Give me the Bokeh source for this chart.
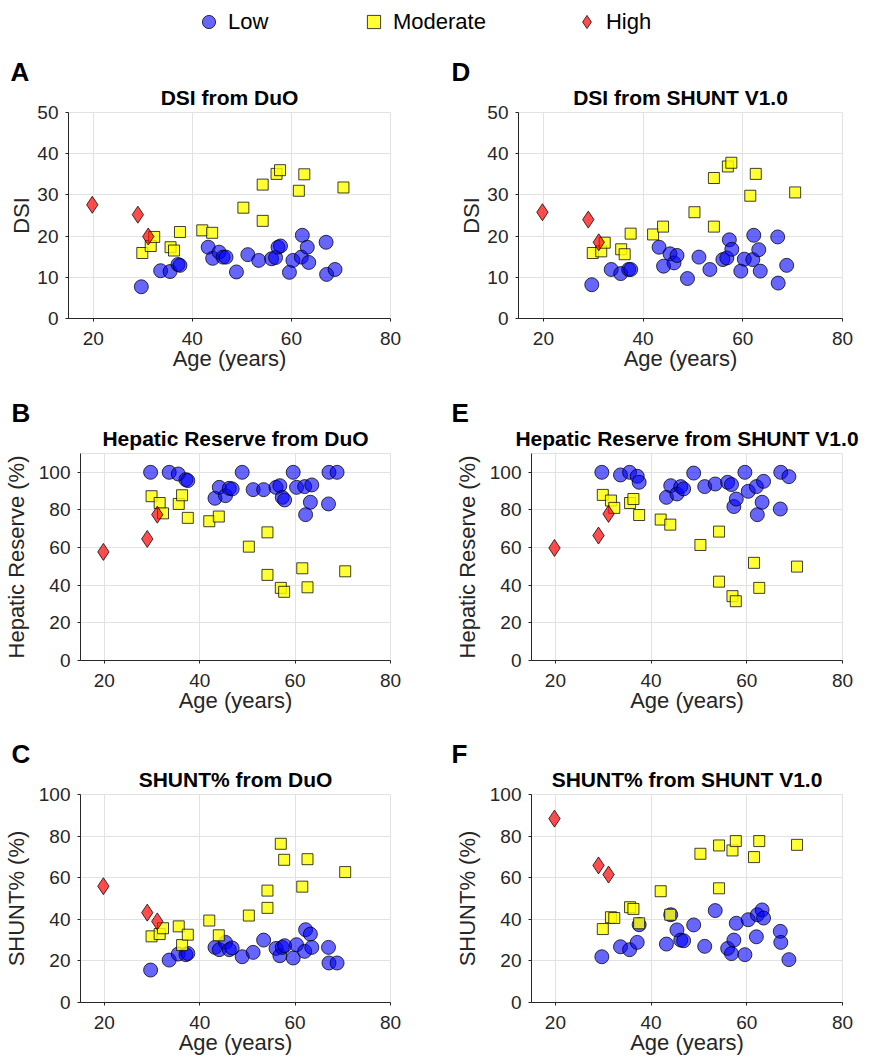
from bokeh.plotting import figure
from bokeh.models import Legend, LegendItem, Title, FixedTicker, Range1d
from bokeh.layouts import column, row
from bokeh.embed import file_html
from bokeh.resources import INLINE

# ---------------- data ----------------
low_age = [29.7, 33.6, 35.5, 37.1, 37.5, 43.2, 44.1, 45.4, 46.2, 46.8, 48.9, 51.2, 53.4,
           56.0, 56.8, 57.3, 57.8, 59.6, 60.3, 62.0, 62.2, 63.2, 63.5, 67.0, 67.1, 68.8]
mod_age = [29.9, 31.6, 32.3, 35.6, 36.3, 37.5, 42.0, 44.0, 50.3, 54.2, 54.2, 57.0, 57.7,
           61.5, 62.6, 70.5]
high_age = [19.8, 29.0, 31.1]

dsi_duo_low = [7.7, 11.6, 11.4, 13.1, 12.9, 17.3, 14.6, 16.1, 14.9, 14.9, 11.3, 15.5, 14.1,
               14.5, 14.8, 17.3, 17.6, 11.2, 14.1, 14.9, 20.2, 17.3, 13.6, 18.5, 10.7, 11.9]
dsi_duo_mod = [15.9, 17.6, 19.8, 17.3, 16.5, 21.0, 21.4, 20.8, 26.9, 23.7, 32.5, 35.1, 36.0,
               31.0, 35.0, 31.8]
dsi_duo_high = [27.6, 25.2, 19.9]

hr_duo_low = [100, 100, 99.1, 96.1, 95.6, 86.2, 92.0, 87.6, 91.5, 91.2, 100, 90.8, 90.8,
              92.0, 92.9, 86.7, 85.3, 100, 92.0, 92.4, 77.5, 84.1, 93.3, 83.2, 100, 100]
hr_duo_mod = [87.3, 83.7, 78.2, 83.2, 87.8, 75.8, 74.0, 76.5, 60.5, 68.1, 45.5, 38.6, 36.5,
              49.0, 38.9, 47.4]
hr_duo_high = [57.7, 64.6, 77.5]

sh_duo_low = [15.6, 20.4, 23.3, 23.0, 23.6, 26.5, 25.4, 28.9, 25.4, 26.2, 22.0, 24.1, 30.0,
              26.0, 22.5, 26.5, 27.3, 21.4, 27.8, 24.6, 35.0, 32.9, 26.5, 26.5, 19.0, 19.0]
sh_duo_mod = [31.8, 32.9, 35.7, 36.6, 27.6, 32.6, 39.4, 32.3, 41.8, 45.5, 53.8, 76.3, 68.6,
              55.7, 68.9, 62.7]
sh_duo_high = [55.9, 43.2, 39.0]

dsi_sv_low = [8.2, 11.9, 10.9, 11.9, 11.9, 17.3, 12.7, 15.7, 13.5, 15.3, 9.7, 14.9, 11.9,
              14.3, 14.7, 19.1, 16.8, 11.5, 14.4, 14.3, 20.2, 16.7, 11.5, 19.8, 8.6, 12.9]
dsi_sv_mod = [15.9, 16.3, 18.4, 16.8, 15.6, 20.6, 20.4, 22.3, 25.8, 22.3, 34.1, 36.9, 37.8,
              29.8, 35.1, 30.6]
dsi_sv_high = [25.8, 24.0, 18.5]

hr_sv_low = [100, 98.6, 100, 97.9, 94.7, 86.7, 92.9, 88.5, 92.4, 91.2, 99.6, 92.4, 93.8,
             94.7, 93.5, 81.8, 85.8, 100, 89.9, 92.4, 77.5, 84.1, 95.2, 80.5, 100, 97.7]
hr_sv_mod = [88.0, 85.0, 81.1, 83.7, 85.8, 77.3, 74.9, 72.2, 61.4, 68.5, 41.9, 34.2, 31.5,
             51.9, 38.6, 49.9]
hr_sv_high = [59.8, 66.4, 77.9]

sh_sv_low = [22.0, 26.8, 25.4, 28.9, 37.4, 28.1, 42.2, 34.9, 30.0, 29.7, 37.3, 27.0, 44.2,
             26.0, 23.5, 30.0, 38.1, 23.0, 39.8, 31.6, 42.2, 44.5, 40.6, 34.2, 28.9, 20.6]
sh_sv_mod = [35.3, 41.0, 40.6, 45.8, 45.0, 38.1, 53.5, 42.2, 71.5, 54.9, 75.5, 73.1, 77.6,
             69.9, 77.6, 75.8]
sh_sv_high = [88.4, 65.9, 61.5]

x_ticks = [20, 40, 60, 80]
dsi_ticks = [0, 10, 20, 30, 40, 50]
pct_ticks = [0, 20, 40, 60, 80, 100]
group_labels = ["Low", "Moderate", "High"]

FONT = "Liberation Sans"
AX = "#262626"
GRID = "#e2e2e2"

LOW_STYLE = dict(marker="circle", size=14, fill_color="#0000ff", fill_alpha=0.6,
                 line_color="black", line_alpha=0.75, line_width=1)
MOD_STYLE = dict(marker="square", size=11, fill_color="#ffff00", fill_alpha=0.8,
                 line_color="black", line_alpha=0.75, line_width=1)
HIGH_STYLE = dict(marker="diamond", size=17, fill_color="#ff0000", fill_alpha=0.7,
                  line_color="black", line_alpha=0.75, line_width=1)


def panel(title, letter, ylabel, ymax, yticks, low, mod, high,
          w, h, bl, br, bt, bb, letter_x, ylab_standoff):
    p = figure(width=w, height=h, x_range=Range1d(15, 80), y_range=Range1d(0, ymax),
               output_backend="svg", toolbar_location=None,
               min_border_left=bl, min_border_right=br,
               min_border_top=bt, min_border_bottom=bb)
    # panel letter as outermost title, shifted left of the frame
    p.title = Title(text=letter, align="left", offset=letter_x - bl,
                    text_font=FONT, text_font_size="26px", text_font_style="bold",
                    text_color="black", standoff=-12)
    p.add_layout(Title(text=title, align="center", text_font=FONT,
                       text_font_size="21px", text_font_style="bold",
                       text_color="black", standoff=7), "above")

    p.xaxis.ticker = FixedTicker(ticks=x_ticks)
    p.yaxis.ticker = FixedTicker(ticks=yticks)
    p.xaxis.axis_label = "Age (years)"
    p.yaxis.axis_label = ylabel
    for ax in (p.xaxis, p.yaxis):
        ax.axis_line_color = AX
        ax.major_tick_line_color = AX
        ax.major_tick_out = 3
        ax.major_tick_in = 0
        ax.minor_tick_line_color = None
        ax.major_label_text_font = FONT
        ax.major_label_text_font_size = "19px"
        ax.major_label_text_color = AX
        ax.axis_label_text_font = FONT
        ax.axis_label_text_font_size = "22px"
        ax.axis_label_text_font_style = "normal"
        ax.axis_label_text_color = AX
    p.xaxis.major_label_standoff = 10
    p.xaxis.axis_label_standoff = -2
    p.yaxis.major_label_standoff = 7
    p.yaxis.axis_label_standoff = ylab_standoff

    p.xgrid.ticker = FixedTicker(ticks=x_ticks)
    p.ygrid.ticker = FixedTicker(ticks=yticks)
    p.grid.grid_line_color = GRID
    p.outline_line_color = GRID
    p.background_fill_color = "white"
    p.border_fill_color = "white"

    p.scatter(low_age, low, **LOW_STYLE)
    p.scatter(mod_age, mod, **MOD_STYLE)
    p.scatter(high_age, high, **HIGH_STYLE)
    return p


LW, RW = 440, 424
pA = panel("DSI from DuO", "A", "DSI", 50, dsi_ticks, dsi_duo_low, dsi_duo_mod, dsi_duo_high,
           LW, 341, 68, 50, 62, 73, 10, 0)
pD = panel("DSI from SHUNT V1.0", "D", "DSI", 50, dsi_ticks, dsi_sv_low, dsi_sv_mod, dsi_sv_high,
           RW, 341, 78, 22, 62, 73, 11, 0)
pB = panel("Hepatic Reserve from DuO", "B", "Hepatic Reserve (%)", 110, pct_ticks,
           hr_duo_low, hr_duo_mod, hr_duo_high, LW, 341, 79, 50, 62, 72, 10, 7)
pE = panel("Hepatic Reserve from SHUNT V1.0", "E", "Hepatic Reserve (%)", 110, pct_ticks,
           hr_sv_low, hr_sv_mod, hr_sv_high, RW, 341, 91, 22, 62, 72, 11, 7)
pC = panel("SHUNT% from DuO", "C", "SHUNT% (%)", 100, pct_ticks,
           sh_duo_low, sh_duo_mod, sh_duo_high, LW, 328, 79, 50, 62, 58, 10, 7)
pF = panel("SHUNT% from SHUNT V1.0", "F", "SHUNT% (%)", 100, pct_ticks,
           sh_sv_low, sh_sv_mod, sh_sv_high, RW, 328, 91, 22, 62, 58, 11, 7)

# legend strip (its sample points lie outside its 0..1 ranges, so only the legend shows)
lf = figure(width=LW + RW, height=50, x_range=Range1d(0, 1), y_range=Range1d(0, 1),
            output_backend="svg", toolbar_location=None, min_border=0,
            x_axis_type=None, y_axis_type=None, outline_line_color=None)
lf.grid.visible = False
r1 = lf.scatter(x=low_age[:1], y=dsi_duo_low[:1], **LOW_STYLE)
r2 = lf.scatter(x=mod_age[:1], y=dsi_duo_mod[:1], **MOD_STYLE)
r3 = lf.scatter(x=high_age[:1], y=dsi_duo_high[:1], **HIGH_STYLE)
leg = Legend(items=[LegendItem(label=group_labels[0], renderers=[r1]),
                    LegendItem(label=group_labels[1], renderers=[r2]),
                    LegendItem(label=group_labels[2], renderers=[r3])],
             orientation="horizontal", location=(192, 12), padding=0, margin=0,
             glyph_width=33, glyph_height=33, label_standoff=3, label_width=45, spacing=84,
             border_line_color=None, background_fill_alpha=0,
             label_text_font=FONT, label_text_font_size="22px", label_text_color="black")
lf.add_layout(leg, "center")

layout = column(lf, row(pA, pD), row(pB, pE), row(pC, pF))
open("out.html", "w").write(file_html(layout, INLINE))
